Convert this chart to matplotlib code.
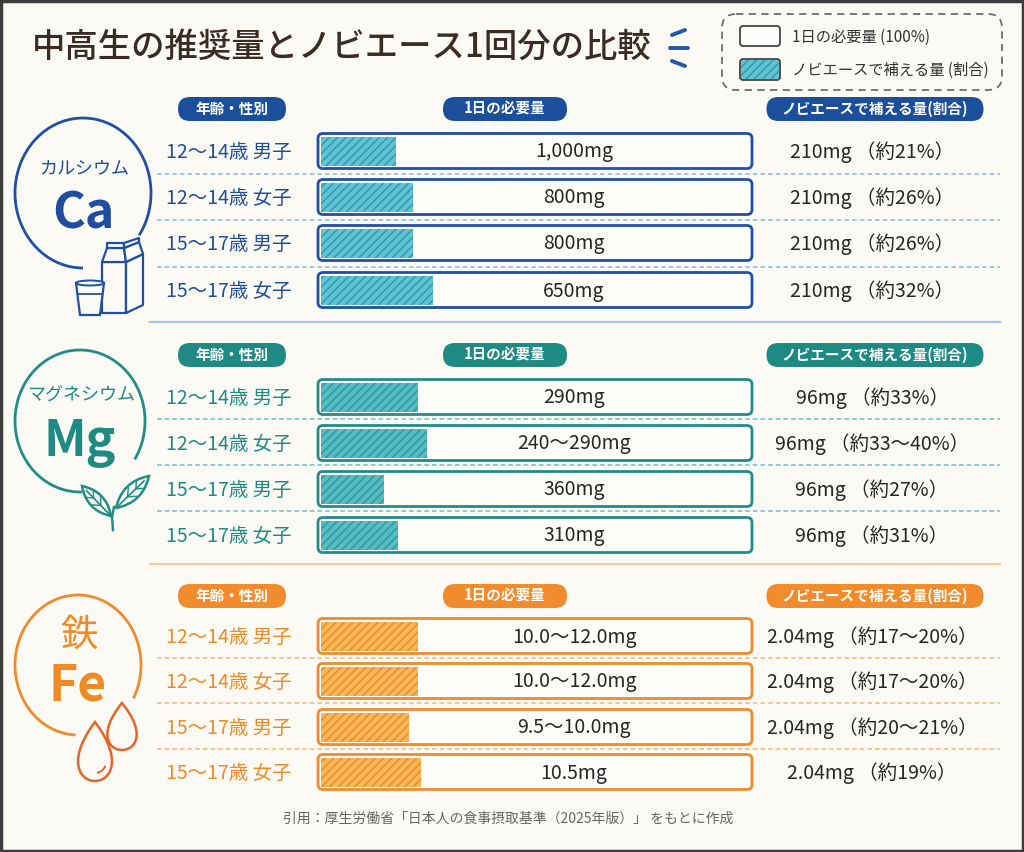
import numpy as np
import matplotlib
matplotlib.use("Agg")
import matplotlib.pyplot as plt
from matplotlib.patches import FancyBboxPatch, Arc, Rectangle, Polygon, PathPatch, Ellipse
from matplotlib.path import Path

plt.rcParams['font.family'] = ['Noto Sans CJK JP', 'DejaVu Sans']
plt.rcParams['hatch.linewidth'] = 1.1

# ========= data =========
title = "中高生の推奨量とノビエース1回分の比較"
ages = ["12～14歳 男子", "12～14歳 女子", "15～17歳 男子", "15～17歳 女子"]

ca_need = ["1,000mg", "800mg", "800mg", "650mg"]
ca_supply = ["210mg （約21%）", "210mg （約26%）", "210mg （約26%）", "210mg （約32%）"]
ca_fill = [0.18, 0.22, 0.22, 0.265]     # drawn fill length / bar length

mg_need = ["290mg", "240～290mg", "360mg", "310mg"]
mg_supply = ["96mg （約33%）", "96mg （約33～40%）", "96mg （約27%）", "96mg （約31%）"]
mg_fill = [0.23, 0.25, 0.152, 0.184]

fe_need = ["10.0～12.0mg", "10.0～12.0mg", "9.5～10.0mg", "10.5mg"]
fe_supply = ["2.04mg （約17～20%）", "2.04mg （約17～20%）", "2.04mg （約20～21%）", "2.04mg （約19%）"]
fe_fill = [0.23, 0.23, 0.21, 0.237]

headers = ["年齢・性別", "1日の必要量", "ノビエースで補える量(割合)"]
legend_labels = ["1日の必要量 (100%)", "ノビエースで補える量 (割合)"]
footer = "引用：厚生労働省「日本人の食事摂取基準（2025年版）」 をもとに作成"

BG = "#fbfaf4"
INK = "#262626"

sections = [
    dict(name="カルシウム", sym="Ca", need=ca_need, supply=ca_supply, fill=ca_fill,
         head_y=109, rows=[151, 197, 243, 290], seps=[174, 220, 267], end=322,
         text="#1f4e9e", pill="#1b4f9c", edge="#2050a5", fc="#62c4d2", hc="#2a9db5",
         dash="#8fb6e0", endc="#a9c6ea", circ=(83, 193, 136, 150, 90, 397)),
    dict(name="マグネシウム", sym="Mg", need=mg_need, supply=mg_supply, fill=mg_fill,
         head_y=355, rows=[397, 443, 489, 535], seps=[419, 465, 511], end=564,
         text="#1f8a84", pill="#1f8a84", edge="#228c89", fc="#58bcc3", hc="#2a9ba3",
         dash="#6cc0c4", endc="#f7c9a0", circ=(80, 421, 130, 142, 88, 395)),
    dict(name="鉄", sym="Fe", need=fe_need, supply=fe_supply, fill=fe_fill,
         head_y=596, rows=[636, 681, 727, 772], seps=[658, 703, 749], end=None,
         text="#f08a24", pill="#f28b2b", edge="#f28a2c", fc="#f9b65a", hc="#ef8c22",
         dash="#f4b77a", endc=None, circ=(78, 665, 126, 140, 92, 391)),
]

fig = plt.figure(figsize=(10.24, 8.52), dpi=100)
fig.patch.set_facecolor(BG)
ax = fig.add_axes([0, 0, 1, 1])
ax.set_xlim(0, 1024)
ax.set_ylim(852, 0)
ax.axis("off")

# frame
ax.add_patch(Rectangle((1, 1), 1022, 850, fc="none", ec="#3c3c3c", lw=2.5, zorder=10))

# ========= title + legend =========
ax.text(32, 47, title, fontsize=24, color="#3b2b25", va="center", ha="left", fontweight="medium")
for (xa, ya, xb, yb) in [(672, 35, 685, 30), (670, 48, 688, 48), (672, 61, 685, 66)]:
    ax.plot([xa, xb], [ya, yb], color="#2456a8", lw=2.8, solid_capstyle="round")

ax.add_patch(FancyBboxPatch((722, 14), 280, 76, boxstyle="round,pad=0,rounding_size=14",
                            fc="none", ec="#6e6e6e", lw=1.3, ls=(0, (4, 3))))
ax.add_patch(FancyBboxPatch((740, 26), 40, 20, boxstyle="round,pad=0,rounding_size=3",
                            fc="#fdfdfb", ec="#444", lw=1.3))
ax.add_patch(Rectangle((741, 60), 38, 19, fc=sections[0]["fc"], ec=sections[0]["hc"],
                       lw=0, hatch="////"))
ax.add_patch(FancyBboxPatch((740, 59), 40, 21, boxstyle="round,pad=0,rounding_size=3",
                            fc="none", ec="#444", lw=1.3))
ax.text(792, 37, legend_labels[0], fontsize=11, color="#333", va="center")
ax.text(792, 70, legend_labels[1], fontsize=11, color="#333", va="center")


def pill(cx, cy, w, label, color):
    ax.add_patch(FancyBboxPatch((cx - w / 2, cy - 12), w, 24,
                                boxstyle="round,pad=0,rounding_size=12",
                                fc=color, ec="none", zorder=3))
    ax.text(cx, cy, label, fontsize=10.5, color="white", fontweight="bold",
            ha="center", va="center", zorder=4)


BX0, BX1, BH = 318, 752, 35

for s in sections:
    # column headers
    pill(232, s["head_y"], 108, headers[0], s["pill"])
    pill(505, s["head_y"], 124, headers[1], s["pill"])
    pill(875, s["head_y"], 217, headers[2], s["pill"])

    # row separators
    for y in s["seps"]:
        ax.plot([157, 1000], [y, y], color=s["dash"], lw=1.1, ls=(0, (3, 2)), zorder=1)
    if s["end"] is not None:
        ax.plot([150, 1000], [s["end"], s["end"]], color=s["endc"], lw=1.6, zorder=1)

    for i, yc in enumerate(s["rows"]):
        ax.text(229, yc + 1, ages[i], fontsize=14, color=s["text"], ha="center", va="center")
        # full bar (100%)
        ax.add_patch(FancyBboxPatch((BX0, yc - BH / 2), BX1 - BX0, BH,
                                    boxstyle="round,pad=0,rounding_size=5",
                                    fc="#fdfdfa", ec=s["edge"], lw=2, zorder=2))
        # supplied share (hatched)
        w = s["fill"][i] * (BX1 - BX0)
        ax.add_patch(Rectangle((BX0 + 3, yc - BH / 2 + 3), w - 3, BH - 6,
                               fc=s["fc"], ec=s["hc"], lw=0, hatch="////", zorder=3))
        ax.text(574, yc + 1, s["need"][i], fontsize=14, color=INK, ha="center", va="center", zorder=4)
        ax.text(872, yc + 1, s["supply"][i], fontsize=14, color=INK, ha="center", va="center")

    # element badge
    cx, cy, cw, ch, t1, t2 = s["circ"]
    ax.add_patch(Arc((cx, cy), cw, ch, theta1=t1, theta2=t2, color=s["edge"], lw=2))
    ax.text(cx + 1, cy - 25 if s["sym"] != "Fe" else cy - 30, s["name"],
            fontsize=13 if s["sym"] != "Fe" else 27, color=s["text"], ha="center", va="center")
    ax.text(cx, cy + 21, s["sym"], fontsize=36, color=s["text"], ha="center", va="center",
            fontweight="bold")

# ========= icons =========
ce = sections[0]["edge"]
for poly in [[(102, 262), (126, 262), (126, 313), (102, 313)],
             [(126, 262), (143, 254), (143, 305), (126, 313)],
             [(102, 262), (107, 248), (124, 248), (126, 262)],
             [(124, 248), (139, 242), (143, 254), (126, 262)],
             [(107, 248), (107, 243), (124, 243), (124, 248)],
             [(124, 243), (139, 238), (139, 242), (124, 248)]]:
    ax.add_patch(Polygon(poly, closed=True, fc=BG, ec=ce, lw=1.6, joinstyle="round", zorder=5))
ax.add_patch(Polygon([(76, 283), (104, 283), (100, 315), (80, 315)], closed=True,
                     fc=BG, ec=ce, lw=1.6, zorder=5))
ax.add_patch(Ellipse((90, 283), 28, 5, fc=BG, ec=ce, lw=1.4, zorder=5))
ax.plot([78, 102], [294, 294], color=ce, lw=1.3, zorder=6)


def leaf(base, tip, width, color):
    b = np.array(base, float)
    t = np.array(tip, float)
    d = t - b
    n = np.array([-d[1], d[0]]) / np.hypot(*d)
    m = (b + t) / 2
    verts = [b, m + n * width, t, m - n * width, b]
    codes = [Path.MOVETO, Path.CURVE3, Path.CURVE3, Path.CURVE3, Path.CURVE3]
    ax.add_patch(PathPatch(Path(verts, codes), fc=BG, ec=color, lw=1.8, zorder=5))
    ax.plot([b[0], t[0] - d[0] * 0.15], [b[1], t[1] - d[1] * 0.15], color=color, lw=1.2, zorder=6)
    for f in (0.35, 0.6):
        p = b + d * f
        for sg in (1, -1):
            q = p + d * 0.15 + sg * n * width * 0.4
            ax.plot([p[0], q[0]], [p[1], q[1]], color=color, lw=1.0, zorder=6)


me = sections[1]["edge"]
ax.plot([113, 112, 114], [530, 517, 507], color=me, lw=1.8, zorder=5)
leaf((111, 516), (82, 486), 14, me)
leaf((116, 508), (149, 476), 15, me)


def drop(cx, tip_y, bot_y, w, color):
    t = np.linspace(0, 2 * np.pi, 200)
    h = (bot_y - tip_y) / 2
    cy = tip_y + h
    x = cx + w * np.sin(t) * np.sin(t / 2)
    y = cy - h * np.cos(t)
    ax.add_patch(Polygon(np.column_stack([x, y]), closed=True, fc=BG, ec=color, lw=1.8, zorder=5))


de = "#e5652a"
drop(122, 703, 750, 19, de)
drop(95, 722, 781, 22, de)
ax.add_patch(Arc((95, 762), 22, 22, theta1=20, theta2=80, color=de, lw=1.4, zorder=6))

ax.text(508, 819, footer, fontsize=10, color="#666", ha="center", va="center")

fig.savefig("out.png", dpi=100, facecolor=BG)
